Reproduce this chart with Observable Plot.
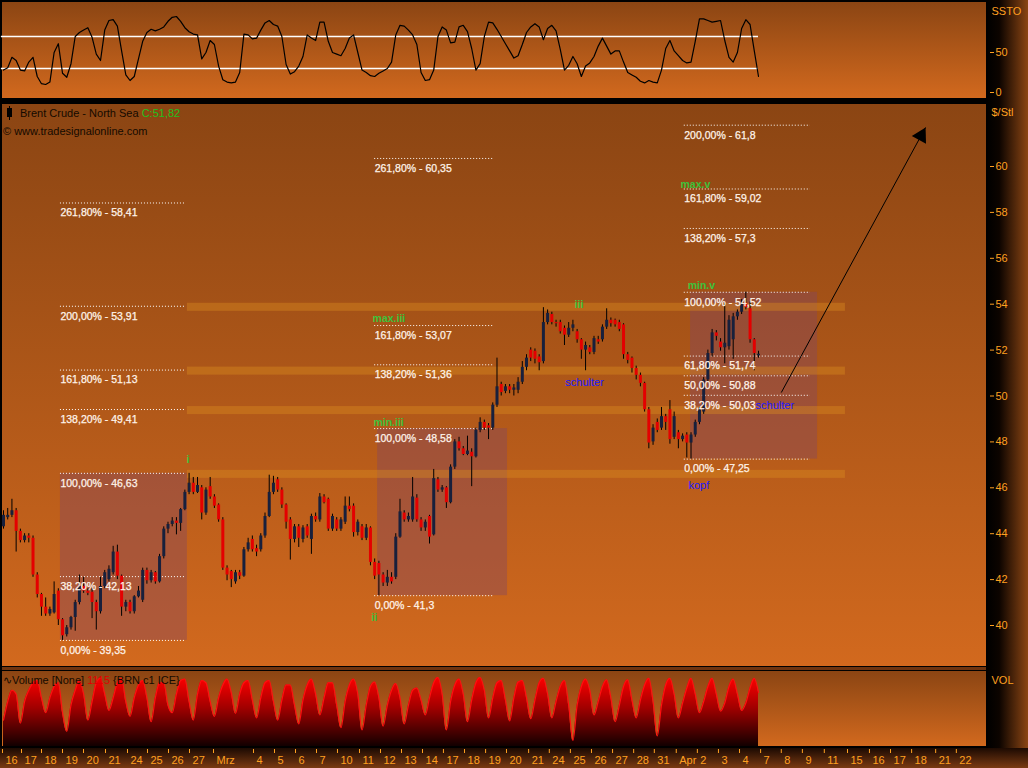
<!DOCTYPE html>
<html><head><meta charset="utf-8">
<script src="https://cdn.jsdelivr.net/npm/d3@7"></script>
<script src="https://cdn.jsdelivr.net/npm/@observablehq/plot@0.6"></script>
<style>
html,body{margin:0;padding:0;background:#000;width:1028px;height:768px;overflow:hidden;font-family:"Liberation Sans",Arial,sans-serif;}
#root{position:relative;width:1028px;height:768px;background:#000;}
.abs{position:absolute;}
.panel{position:absolute;left:2px;width:984px;background:linear-gradient(to bottom,#8B4513,#D2691E);}
svg{position:absolute;left:0;}
</style></head><body>
<div id="root">
  <div class="panel" style="top:2px;height:96px;"></div>
  <div class="panel" style="top:104px;height:562px;"></div>
  <div class="abs" style="left:2px;top:667px;width:984px;height:3px;background:#6e3410;"></div>
  <div class="panel" style="top:671px;height:75px;"></div>
  <div class="abs" style="left:0;top:748px;width:1028px;height:20px;background:linear-gradient(to bottom,#1c0a02,#7a3a12);"></div>
  <div class="abs" style="left:987px;top:0;width:41px;height:748px;background:linear-gradient(to right,#000 0%,#0c0400 30%,#8B4513 100%);"></div>
</div>
<script>
// ---------- DATA ----------
const open = [44.3,44.7,44.8,45.0,44.1,43.7,43.9,43.8,42.2,41.35,
40.8,40.5,40.55,41.5,40.25,39.6,39.9,40.35,41.0,41.7,
41.5,41.45,41.0,40.6,41.7,42.0,42.3,43.2,42.15,40.8,
41.0,40.6,41.25,41.1,42.4,41.95,42.3,41.9,43.0,44.2,
44.4,44.55,44.45,45.05,45.8,46.2,45.8,46.0,44.9,46.05,
45.6,45.25,44.6,42.5,42.35,41.9,42.3,42.15,43.3,43.75,
43.35,43.3,43.9,44.75,45.8,46.35,45.9,45.25,44.6,43.75,
44.3,43.75,44.3,43.75,44.75,44.6,45.6,45.5,44.2,44.6,
44.2,44.5,45.2,45.2,44.05,44.3,43.8,44.25,42.75,42.7,
42.2,41.85,42.1,42.1,43.85,44.9,44.6,44.6,45.55,44.6,
44.25,44.75,43.95,46.35,45.9,46.0,45.35,46.9,48.0,47.7,
47.45,47.55,47.35,48.5,48.85,48.7,48.6,49.6,50.5,50.2,
50.4,50.25,50.25,50.6,51.25,52.0,51.95,51.7,51.5,53.2,
53.55,53.2,53.2,52.95,52.65,52.95,52.8,52.45,52.0,52.1,
51.9,52.45,52.45,53.0,53.3,53.3,53.2,53.1,51.8,51.65,
51.2,50.9,50.55,49.4,48.0,48.85,48.6,49.1,49.4,48.2,
48.4,48.1,48.3,47.95,48.3,48.85,49.3,50.7,51.85,52.75,
52.35,52.1,52.15,52.45,53.45,53.65,54.05,53.8,52.45,51.75];
const close = [44.8,44.8,45.0,44.1,43.7,43.9,43.8,42.2,41.35,40.8,
40.5,40.7,41.35,40.25,39.55,39.9,40.35,41.0,41.7,41.5,
41.4,41.0,40.6,41.7,42.3,42.45,43.2,42.15,40.8,41.0,
40.6,41.25,41.5,42.4,41.95,42.3,41.9,43.0,44.2,44.4,
44.55,44.45,45.05,45.8,46.2,45.8,46.1,44.9,45.9,45.6,
45.2,44.6,42.5,42.2,42.0,42.3,42.15,43.3,43.6,43.3,
43.2,43.9,44.75,45.8,46.2,45.9,45.25,44.5,43.75,44.3,
43.8,44.25,43.9,44.75,44.6,45.6,45.35,44.2,44.75,44.2,
44.6,45.2,45.05,44.05,44.5,43.8,44.25,42.75,42.15,42.2,
41.85,42.1,41.9,43.85,44.95,44.6,44.75,45.6,44.6,44.25,
44.5,43.85,46.4,45.9,46.0,45.35,46.9,48.0,47.7,47.45,
47.6,47.35,48.5,48.85,48.6,48.6,49.6,50.4,50.15,50.4,
50.25,50.35,50.6,51.25,51.65,51.65,51.6,51.45,53.2,53.6,
53.2,53.15,52.8,52.65,52.95,53.1,52.45,52.0,52.2,51.9,
52.5,52.35,53.0,53.3,53.15,53.1,52.9,51.8,51.55,51.2,
50.9,50.55,49.4,47.95,48.6,48.5,49.1,48.85,48.1,49.1,
48.1,48.25,47.95,48.3,48.85,49.4,50.7,51.85,52.75,52.6,
52.1,52.3,53.3,53.45,53.65,54.05,53.85,52.45,51.85,51.82];
const high = [45.0,45.1,45.5,45.1,44.2,44.0,44.0,43.9,42.3,41.4,
41.2,40.8,41.9,41.6,40.3,40.0,40.4,41.1,42.2,42.1,
41.6,41.6,41.1,42.1,42.4,42.6,43.45,43.5,42.2,41.1,
41.1,41.3,41.7,42.5,42.5,42.4,42.35,43.1,44.3,44.5,
44.7,44.7,45.1,45.9,46.63,46.45,46.45,46.1,46.0,46.45,
45.7,45.3,44.7,42.6,42.4,42.4,42.4,43.4,43.8,43.9,
43.5,44.0,44.9,46.55,46.5,46.45,46.0,45.3,44.7,44.4,
44.4,44.35,44.4,44.85,44.9,45.75,45.7,45.55,44.85,44.7,
44.7,45.6,45.6,45.3,44.6,44.4,44.4,44.3,42.9,42.8,
42.3,42.4,42.3,44.0,45.5,45.0,44.9,46.45,45.7,44.7,
44.6,44.8,46.8,46.45,46.1,46.05,47.0,48.1,48.2,47.8,
48.25,47.7,48.6,49.05,48.95,48.8,49.7,51.65,50.6,50.5,
50.5,50.5,50.8,51.5,51.8,52.1,52.05,51.8,53.85,53.75,
53.65,53.3,53.3,53.05,53.2,53.3,52.9,52.5,52.35,52.2,
52.6,52.6,53.1,53.8,53.4,53.35,53.3,53.15,51.9,51.7,
51.3,51.0,50.6,49.5,48.75,49.0,49.5,49.2,49.8,49.3,
48.5,48.35,48.4,48.4,48.95,49.5,50.8,52.0,52.9,52.85,
52.5,54.0,53.5,53.6,53.75,54.2,54.52,54.1,52.5,51.95];
const low = [44.2,44.6,44.7,43.2,43.6,43.6,43.6,42.1,41.2,40.4,
40.4,40.4,40.5,40.0,39.35,39.5,39.8,39.75,40.9,41.4,
41.3,40.3,39.8,40.5,41.6,41.9,42.2,42.0,40.4,40.6,
40.5,40.5,41.2,41.0,41.8,41.85,41.8,41.85,42.9,44.0,
44.3,43.95,44.1,45.0,45.7,45.7,45.75,44.6,44.8,45.5,
45.1,44.5,42.4,41.95,41.65,41.8,42.0,42.1,43.2,43.2,
43.0,43.2,43.8,44.7,45.7,45.8,45.1,44.2,42.85,43.6,
43.4,43.6,43.8,43.1,44.5,44.5,45.3,44.1,44.1,44.1,
44.1,44.4,44.95,43.85,43.9,43.7,43.7,42.6,42.0,41.3,
41.7,41.7,41.8,42.0,43.8,44.5,44.5,44.5,44.5,44.1,
44.1,43.55,43.9,45.8,45.8,45.1,45.3,46.8,47.6,47.4,
47.4,46.05,47.3,48.4,48.5,48.1,48.5,49.5,50.0,50.1,
50.1,50.0,50.1,50.5,51.1,51.5,51.4,51.1,51.4,53.1,
53.1,53.0,52.7,52.2,52.55,52.8,52.3,51.6,51.1,51.8,
51.8,52.25,52.35,52.9,53.0,53.0,52.8,51.6,51.4,51.0,
50.7,50.4,49.3,47.7,47.85,48.4,48.5,48.5,47.9,48.1,
47.7,48.0,47.3,47.25,48.2,48.75,49.2,50.6,51.7,52.4,
51.95,51.4,52.0,51.6,53.3,53.55,53.75,52.3,51.1,51.65];
const volume = [35,60,75,70,31,60,75,85,88,65,
45,65,80,85,45,20,55,75,88,70,
35,60,85,91,70,48,65,85,91,60,
40,65,82,88,65,33,65,85,85,55,
45,70,88,90,60,35,70,88,85,60,
40,65,82,90,72,44,70,85,88,62,
38,65,85,88,60,35,62,82,82,55,
30,62,82,90,70,42,65,85,85,55,
25,60,82,90,70,22,55,80,86,65,
27,55,75,84,65,30,55,75,78,62,
42,65,85,92,70,22,60,82,90,70,
33,62,85,92,75,38,65,85,88,62,
34,65,86,88,65,37,62,85,91,70,
38,60,80,88,55,8,55,80,90,75,
42,60,80,89,65,33,55,80,89,62,
38,62,82,91,60,14,55,82,91,70,
38,58,78,91,70,45,60,80,91,70,
47,58,80,90,70,48,58,78,91,72];
const ssto = [28,31,44,40,28,27,38,44,20,11,
10,13,50,61,24,19,36,70,75,78,
81,69,48,40,78,90,91,83,52,22,
15,20,42,64,75,79,77,79,82,89,
94,95,89,81,76,73,72,42,50,65,
60,33,16,13,12,13,25,73,72,67,
68,78,87,90,85,83,70,35,23,26,
33,45,72,68,65,88,88,64,50,48,
46,55,68,72,50,28,25,21,20,24,
27,30,38,72,84,83,78,72,60,25,
15,16,28,70,82,78,62,63,82,84,
76,55,28,36,70,88,87,79,70,61,
52,43,46,60,75,82,86,82,66,80,
84,77,54,28,34,45,36,20,33,37,
45,58,68,58,48,52,52,38,25,22,
19,14,12,15,13,12,28,55,65,52,
46,40,37,38,64,92,92,90,88,89,
90,65,44,38,50,80,91,85,52,20];

// x-axis ticks (bar index positions) and labels
const tickPos = [-0.24,4.27,9.01,13.99,18.97,24.18,29.4,34.14,39.12,44.1,
49.79,59.27,64.25,69.23,74.21,79.18,84.4,89.38,94.36,99.34,
104.3,109.3,114.3,119.25,124.5,129.4,134.4,139.4,144.4,149.4,
154.3,159.5,164.5,169.5,174.5,179.5,184.4,189.4,194.6,200.1,
205.3,210.3,215.3,221.0,225.9];
const tickLabels = ["16","17","18","19","20","21","24","25","26","27",
"Mrz","4","5","6","7","10","11","12","13","14",
"17","18","19","20","21","24","25","26","27","28",
"31","Apr","2","3","4","7","8","9","11","15",
"16","17","18","21","22"];
const priceTicks = [40,42,44,46,48,50,52,54,56,58,60];
const sstoTicks = [0,50];
const sstoLevels = [70,30];

// Fibonacci projections
const fibLeftPct = ["261,80%","200,00%","161,80%","138,20%","100,00%","38,20%","0,00%"];
const fibLeftVal = [58.41,53.91,51.13,49.41,46.63,42.13,39.35];
const fibLeftSpan = [13.5,43.2];
const fibMidPct = ["261,80%","161,80%","138,20%","100,00%","0,00%"];
const fibMidVal = [60.35,53.07,51.36,48.58,41.3];
const fibMidSpan = [88.0,116.4];
const fibRightPct = ["200,00%","161,80%","138,20%","100,00%","61,80%","50,00%","38,20%","0,00%"];
const fibRightVal = [61.8,59.02,57.3,54.52,51.74,50.88,50.03,47.25];
const fibRightSpan = [161.4,191.3];

// shaded wave boxes
const boxX1 = [13.5,88.7,162.9];
const boxX2 = [43.6,119.5,193.0];
const boxTop = [46.63,48.58,54.52];
const boxBottom = [39.35,41.3,47.25];

// horizontal resistance bands
const bandLevels = [53.91,51.13,49.41,46.63];
const bandSpan = [43.6,199.6];

// wave labels
const waveText = ["i","ii","iii","max.iii","min.iii","max.v","min.v"];
const waveX = [43.4,87.2,135.4,87.5,87.7,160.5,162.2];
const waveY = [47.22,40.35,53.96,53.35,48.83,59.22,54.83];
const noteText = ["schulter","schulter","kopf"];
const noteX = [133.2,178.3,162.4];
const noteY = [50.57,49.57,46.09];

// trend arrow (bar index, price)
const arrowFrom = [184.4,50.15];
const arrowTo = [218.6,61.7];

// ---------- RENDER ----------
const FONT = '"Liberation Sans", Arial, sans-serif';
const AXC = "#ffa020";
const xDomain = [-0.711,233.29];
const X = {domain: xDomain, range: [0,987], axis: null};
const root = document.getElementById("root");
function place(svg, top){ svg.style.position="absolute"; svg.style.left="0px"; svg.style.top=top+"px"; root.appendChild(svg); return svg; }
const common = {width:1028, marginTop:0, marginBottom:0, marginLeft:0, marginRight:41,
  style:{background:"transparent", overflow:"visible", fontFamily:FONT}};

const candles = close.map((c,i)=>({i, o:open[i], h:high[i], l:low[i], c}));
const upC = candles.filter(d=>d.c>=d.o), dnC = candles.filter(d=>d.c<d.o);

function fibRows(p, v, s){ return v.map((val,k)=>({y:val, x1:s[0], x2:s[1], text:`${p[k]} - ${String(val).replace(".", ",")}`})); }
const fibs = [...fibRows(fibLeftPct,fibLeftVal,fibLeftSpan), ...fibRows(fibMidPct,fibMidVal,fibMidSpan), ...fibRows(fibRightPct,fibRightVal,fibRightSpan)];
const boxes = boxX1.map((x1,k)=>({x1, x2:boxX2[k], y1:boxTop[k], y2:boxBottom[k]}));
const bands = bandLevels.map(v=>({x1:bandSpan[0], x2:bandSpan[1], y1:v+0.13, y2:v-0.22}));
const waves = waveText.map((t,k)=>({t, x:waveX[k], y:waveY[k]}));
const notes = noteText.map((t,k)=>({t, x:noteX[k], y:noteY[k]}));

// SSTO panel
place(Plot.plot({...common, height:100,
  x: X, y: {domain:[0,100], range:[92,12]},
  marks: [
    Plot.axisY({anchor:"right", ticks:sstoTicks, tickSize:4, tickPadding:2, dx:2, label:null, color:AXC, fontSize:11}),
    Plot.ruleY(sstoLevels, {y:d=>d, x1:-0.5, x2:close.length-1, stroke:"#fff", strokeWidth:1.3}),
    Plot.lineY(ssto, {x:(d,i)=>i, y:d=>d, stroke:"#000", strokeWidth:1.2}),
    Plot.text(["SSTO"], {frameAnchor:"top-right", dx:4, dy:11, textAnchor:"start", lineAnchor:"middle", fill:AXC, fontSize:11})
  ]}), 0);

// Main price panel
place(Plot.plot({...common, height:564,
  x: X, y: {domain:[40,60], range:[522,63]},
  marks: [
    Plot.axisY({anchor:"right", ticks:priceTicks, tickSize:4, tickPadding:2, dx:2, label:null, color:AXC, fontSize:11}),
    Plot.rect(boxes, {x1:"x1", x2:"x2", y1:"y1", y2:"y2", fill:"#834664", fillOpacity:0.4}),
    Plot.rect(bands, {x1:"x1", x2:"x2", y1:"y1", y2:"y2", fill:"#d88a20", fillOpacity:0.42}),
    Plot.ruleY(fibs, {y:"y", x1:"x1", x2:"x2", stroke:"#ffffff", strokeWidth:1, strokeDasharray:"1,2"}),
    Plot.ruleX(candles, {x:"i", y1:"l", y2:"h", stroke:"#000", strokeWidth:1}),
    Plot.ruleX(upC, {x:"i", y1:"o", y2:"c", stroke:"#18203c", strokeWidth:3}),
    Plot.ruleX(dnC, {x:"i", y1:"o", y2:"c", stroke:"#e40000", strokeWidth:3}),
    Plot.text(fibs, {x:"x1", y:"y", text:"text", textAnchor:"start", lineAnchor:"middle", dy:10, fill:"#fff4ea", stroke:"#fff4ea", strokeWidth:0.25, fontSize:10.5}),
    Plot.text(waves, {x:"x", y:"y", text:"t", textAnchor:"start", lineAnchor:"middle", fill:"#3cc23c", fontSize:10.5, fontWeight:"bold"}),
    Plot.text(notes, {x:"x", y:"y", text:"t", textAnchor:"start", lineAnchor:"middle", fill:"#1a1aff", fontSize:11}),
    Plot.link([{x1:arrowFrom[0], y1:arrowFrom[1], x2:arrowTo[0], y2:arrowTo[1]}], {x1:"x1", y1:"y1", x2:"x2", y2:"y2", stroke:"#000", strokeWidth:1}),
    Plot.dot([{x:arrowTo[0], y:arrowTo[1]}], {x:"x", y:"y", symbol:"triangle", r:6, fill:"#000", rotate:28.5, dx:-4.4, dy:8.2}),
    Plot.text(["$/Stl"], {frameAnchor:"top-right", dx:4, dy:9, textAnchor:"start", lineAnchor:"middle", fill:AXC, fontSize:11})
  ]}), 103);

// Volume panel
const volSvg = place(Plot.plot({...common, height:75,
  x: X, y: {domain:[0,100], range:[75,0], axis:null},
  marks: [
    Plot.areaY(volume, {x:(d,i)=>i, y:d=>d, fill:"url(#volGrad)", curve:"monotone-x"}),
    Plot.lineY(volume, {x:(d,i)=>i, y:d=>d, stroke:"#ff1010", strokeWidth:1.2, curve:"monotone-x"}),
    Plot.text(["VOL"], {frameAnchor:"top-right", dx:4, dy:9, textAnchor:"start", lineAnchor:"middle", fill:AXC, fontSize:11})
  ]}), 671);
const defs = document.createElementNS("http://www.w3.org/2000/svg","defs");
defs.innerHTML = '<linearGradient id="volGrad" x1="0" y1="0" x2="0" y2="1"><stop offset="0" stop-color="#ff0000"/><stop offset="0.45" stop-color="#a00000"/><stop offset="1" stop-color="#120000"/></linearGradient>';
volSvg.insertBefore(defs, volSvg.firstChild);

// Date strip
place(Plot.plot({...common, height:20, marginTop:1, marginBottom:15,
  x: X,
  marks: [
    Plot.tickX(tickPos, {x:d=>d, stroke:AXC, strokeWidth:1}),
    Plot.text(tickPos, {x:d=>d, text:(d,i)=>tickLabels[i], frameAnchor:"bottom", dy:7, dx:3, textAnchor:"start", lineAnchor:"middle", fill:AXC, fontSize:11})
  ]}), 748);

// Header texts
const hdr = document.createElement("div");
hdr.innerHTML = `
<div class="abs" style="left:9px;top:106px;width:1px;height:14px;background:#000;"></div>
<div class="abs" style="left:7px;top:108px;width:5px;height:9px;background:#000;"></div>
<div class="abs" style="left:20px;top:106px;font-size:11px;line-height:14px;color:#140a00;white-space:nowrap;">Brent Crude - North Sea <span style="color:#1fc01f">C:51,82</span></div>
<div class="abs" style="left:3px;top:124px;font-size:11px;line-height:14px;color:#140a00;white-space:nowrap;">© www.tradesignalonline.com</div>
<div class="abs" style="left:3px;top:673px;font-size:11px;line-height:14px;color:#140a00;white-space:nowrap;">∿Volume [None] <span style="color:#e00000">1115</span> {BRN c1 ICE}</div>`;
root.appendChild(hdr);
</script>
</body></html>
